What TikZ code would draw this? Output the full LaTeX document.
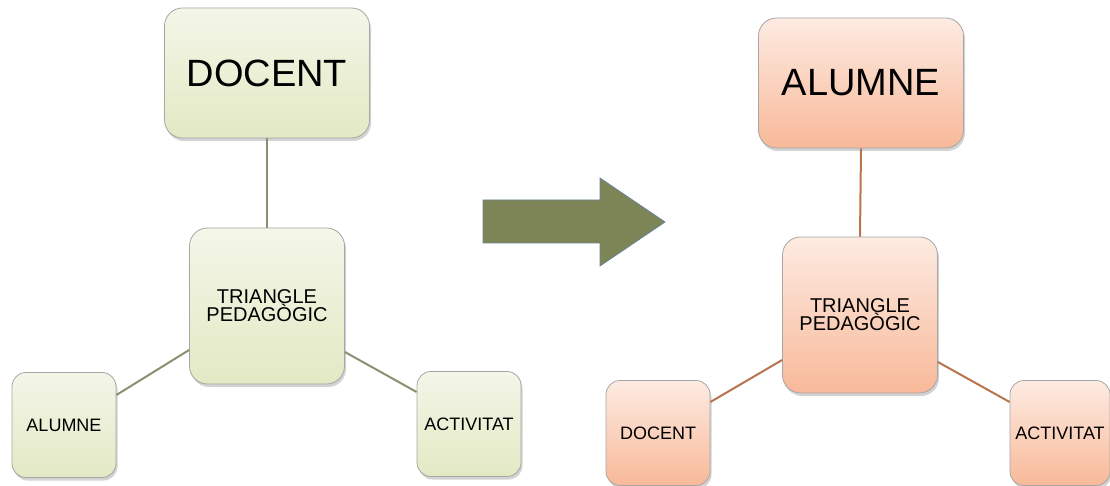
\documentclass[tikz,border=0pt]{standalone}
\usepackage{fontspec}
\setmainfont{Liberation Sans}
\usetikzlibrary{shadows}
\definecolor{oliveA}{HTML}{F4F6E8}
\definecolor{oliveB}{HTML}{E3E9C4}
\definecolor{oliveline}{HTML}{8C8F70}
\definecolor{peachA}{HTML}{FDEBE2}
\definecolor{peachB}{HTML}{F8B999}
\definecolor{peachline}{HTML}{B8744C}
\definecolor{arrowfill}{HTML}{7D8455}
\definecolor{arrowedge}{HTML}{6A86A0}
\tikzset{
  box/.style={rounded corners=18pt, draw=black!35, line width=0.8pt,
    inner sep=0pt, align=center, font=\fontsize{18}{18}\selectfont,
    drop shadow={shadow xshift=1.5pt, shadow yshift=-3pt, opacity=0.35}},
  green/.style={box, top color=oliveA, bottom color=oliveB},
  peach/.style={box, top color=peachA, bottom color=peachB},
  big/.style={minimum width=205pt, minimum height=130pt, font=\fontsize{38}{40}\selectfont},
  mid/.style={minimum width=155pt, minimum height=156pt, font=\fontsize{20}{18}\selectfont},
  small/.style={minimum width=104pt, minimum height=105pt, rounded corners=14pt}
}
\begin{document}
\begin{tikzpicture}[x=1pt, y=-1pt]
  \useasboundingbox (0,0) rectangle (1110,486);
  % left triangle
  \node[green, big] (docent) at (267,73) {DOCENT};
  \node[green, mid] (triangle) at (267,306) {TRIANGLE\\PEDAGÒGIC};
  \node[green, small] (alumne) at (64,425) {ALUMNE};
  \node[green, small] (activitat) at (469,424) {ACTIVITAT};
  \begin{scope}[-, draw=oliveline, line width=2pt]
    \draw (triangle.north) to (docent.south);
    \draw (triangle.west |- 0,350) to (alumne.east |- 0,395);
    \draw (triangle.east |- 0,352) to (activitat.west |- 0,392);
  \end{scope}
  % arrow
  \fill[arrowfill, draw=arrowedge, line width=0.8pt]
    (483,200) -- (600,200) -- (600,178) -- (665,222)
    -- (600,266) -- (600,243) -- (483,243) -- cycle;
  % right triangle
  \node[peach, big] (alumne2) at (861,83) {ALUMNE};
  \node[peach, mid] (triangle2) at (860,315) {TRIANGLE\\PEDAGÒGIC};
  \node[peach, small] (docent2) at (658,433) {DOCENT};
  \node[peach, small, minimum width=100pt] (activitat2) at (1060,433) {ACTIVITAT};
  \begin{scope}[-, draw=peachline, line width=2pt]
    \draw (triangle2.north) to (alumne2.south);
    \draw (triangle2.west |- 0,360) to (docent2.east |- 0,402);
    \draw (triangle2.east |- 0,362) to (activitat2.west |- 0,402);
  \end{scope}
\end{tikzpicture}
\end{document}
